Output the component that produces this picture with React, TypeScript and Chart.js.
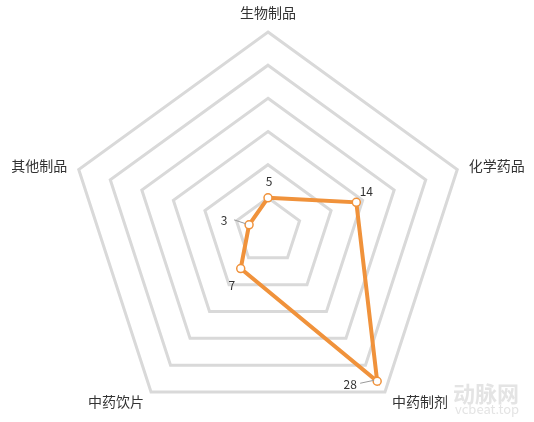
import React, { useEffect, useRef } from 'react';
import { Chart, registerables } from 'chart.js';

Chart.register(...registerables);

// categories, clockwise from the top
const categories = ['生物制品', '化学药品', '中药制剂', '中药饮片', '其他制品'];
const counts = [5, 14, 28, 7, 3];
const scaleMax = 30;
const scaleStep = 5;

const LINE_COLOR = '#F0923B';
const GRID_COLOR = '#d9d9d9';
const TEXT_COLOR = '#333333';
const FONT = '"Noto Sans CJK SC", "Noto Sans", sans-serif';

// where each value label sits relative to its point, and whether it gets a leader line
const labelOffsets: [number, number][] = [[1, -16], [10, -11], [-27, 3], [-9, 17], [-25, -4]];
const labelLeaders = [false, false, true, false, true];

// axis names drawn around the outer ring (ECharts style: centred vertically)
const axisNamePlugin = {
  id: 'axisNames',
  afterDraw(chart: any) {
    const scale = chart.scales.r;
    const ctx = chart.ctx;
    ctx.save();
    ctx.font = `14px ${FONT}`;
    ctx.fillStyle = TEXT_COLOR;
    categories.forEach((name, i) => {
      const p = scale.getPointPosition(i, scale.drawingArea + 12);
      const dx = p.x - scale.xCenter;
      ctx.textAlign = Math.abs(dx) < 2 ? 'center' : dx > 0 ? 'left' : 'right';
      ctx.textBaseline = i === 0 ? 'bottom' : 'middle';
      ctx.fillText(name, p.x, p.y);
    });
    ctx.restore();
  },
};

const valueLabelPlugin = {
  id: 'valueLabels',
  afterDatasetsDraw(chart: any) {
    const ctx = chart.ctx;
    const meta = chart.getDatasetMeta(0);
    ctx.save();
    ctx.font = `12px ${FONT}`;
    ctx.fillStyle = TEXT_COLOR;
    ctx.textAlign = 'center';
    ctx.textBaseline = 'middle';
    meta.data.forEach((pt: any, i: number) => {
      const [ox, oy] = labelOffsets[i];
      const tx = pt.x + ox;
      const ty = pt.y + oy;
      if (labelLeaders[i]) {
        ctx.strokeStyle = '#9a9a9a';
        ctx.lineWidth = 1;
        ctx.beginPath();
        ctx.moveTo(tx + 10, ty - 1);
        ctx.lineTo(pt.x - 3, pt.y - 1);
        ctx.stroke();
      }
      ctx.fillText(String(counts[i]), tx, ty);
    });
    ctx.restore();
  },
};

const watermarkPlugin = {
  id: 'watermark',
  afterDraw(chart: any) {
    const ctx = chart.ctx;
    ctx.save();
    ctx.fillStyle = '#e4e4e4';
    ctx.textAlign = 'left';
    ctx.textBaseline = 'middle';
    ctx.font = `bold 22px ${FONT}`;
    ctx.fillText('动脉网', 453, 394);
    ctx.font = `13px ${FONT}`;
    ctx.fillText('vcbeat.top', 455, 409);
    ctx.restore();
  },
};

const RadarChart: React.FC = () => {
  const canvasRef = useRef<HTMLCanvasElement>(null);
  const chartInstance = useRef<Chart | null>(null);

  useEffect(() => {
    if (!canvasRef.current) return;
    if (chartInstance.current) chartInstance.current.destroy();

    chartInstance.current = new Chart(canvasRef.current, {
      type: 'radar',
      data: {
        labels: categories,
        datasets: [
          {
            label: '数量',
            data: counts,
            borderColor: LINE_COLOR,
            backgroundColor: 'rgba(0,0,0,0)',
            borderWidth: 4,
            fill: false,
            pointRadius: 4,
            pointBorderWidth: 1.5,
            pointBackgroundColor: '#ffffff',
            pointBorderColor: LINE_COLOR,
          },
        ],
      },
      options: {
        responsive: true,
        maintainAspectRatio: false,
        animation: false,
        layout: { padding: { top: 32, bottom: 0, left: 2, right: 0 } },
        scales: {
          r: {
            min: 0,
            max: scaleMax,
            ticks: { display: false, stepSize: scaleStep },
            grid: { color: GRID_COLOR, lineWidth: 3 },
            angleLines: { display: false },
            pointLabels: { display: false },
          },
        },
        plugins: {
          legend: { display: false },
          tooltip: { enabled: false },
        },
      },
      plugins: [axisNamePlugin, valueLabelPlugin, watermarkPlugin],
    });

    return () => {
      if (chartInstance.current) {
        chartInstance.current.destroy();
        chartInstance.current = null;
      }
    };
  }, []);

  // the canvas runs a little past the bottom edge so the radar can be as large as the reference's
  return (
    <div style={{ position: 'absolute', left: 0, top: 0, width: '534px', height: '422px', overflow: 'hidden' }}>
      <div style={{ position: 'relative', width: '534px', height: '430px' }}>
        <canvas ref={canvasRef}></canvas>
      </div>
    </div>
  );
};

export default function App() {
  return <RadarChart />;
}
